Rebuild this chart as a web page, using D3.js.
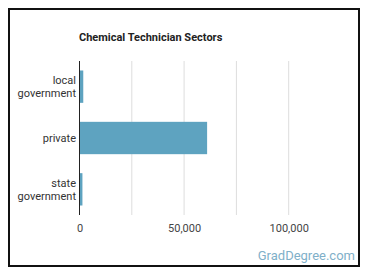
<!DOCTYPE html>
<html><head><meta charset="utf-8">
<script src="https://cdn.jsdelivr.net/npm/d3@7"></script>
<style>body{margin:0;background:#fff;font-family:Roboto,"Noto Sans",sans-serif;}</style>
</head><body>
<script>
const categories = [["local","government"],["private"],["state","government"]];
const values = [1800, 61000, 1400];
const tickValues = [0, 25000, 50000, 75000, 100000];
const tickLabels = ["0", "", "50,000", "", "100,000"];
const title = "Chemical Technician Sectors";

(function () {
const W = 370, H = 278;
const svg = d3.select("body").append("svg").attr("width", W).attr("height", H);
svg.append("rect").attr("x", 9).attr("y", 9).attr("width", 350).attr("height", 257)
  .attr("fill", "#fff").attr("stroke", "#111").attr("stroke-width", 2);

const mLeft = 79.5, mTop = 61, mBottom = 215;
const x = d3.scaleLinear().domain([0, 25000]).range([mLeft, mLeft + 52.3]);
const y = d3.scaleBand().domain(d3.range(categories.length)).range([mTop, mBottom]).paddingInner(0.37).paddingOuter(0.185);

svg.append("text").attr("x", 79).attr("y", 41).attr("font-size", 11).attr("font-weight", "bold")
  .attr("fill", "#222").text(title);

const grid = svg.append("g");
grid.selectAll("line").data(tickValues.slice(1)).join("line")
  .attr("x1", d => x(d)).attr("x2", d => x(d)).attr("y1", mTop).attr("y2", mBottom)
  .attr("stroke", "#ddd").attr("stroke-width", 1);

svg.append("g").selectAll("rect").data(values).join("rect")
  .attr("x", x(0)).attr("y", (d, i) => y(i)).attr("width", d => x(d) - x(0))
  .attr("height", y.bandwidth()).attr("fill", "#5ea3c0");

svg.append("line").attr("x1", x(0)).attr("x2", x(0)).attr("y1", mTop).attr("y2", mBottom)
  .attr("stroke", "#222").attr("stroke-width", 1);

const xa = svg.append("g").attr("transform", `translate(0,${mBottom})`)
  .call(d3.axisBottom(x).tickValues(tickValues).tickFormat((d, i) => tickLabels[i]).tickSize(0).tickPadding(9));
xa.select(".domain").remove();
xa.selectAll("text").attr("font-size", 11).attr("fill", "#444").attr("font-family", "Roboto");

const ylab = svg.append("g");
categories.forEach((lines, i) => {
  const cy = y(i) + y.bandwidth() / 2;
  const t = ylab.append("text").attr("text-anchor", "end").attr("font-size", 11).attr("fill", "#333");
  const n = lines.length;
  lines.forEach((l, j) => {
    t.append("tspan").attr("x", 76).attr("y", cy + (j - (n - 1) / 2) * 13 + 4).text(l);
  });
});

svg.append("text").attr("x", 355).attr("y", 260).attr("text-anchor", "end").attr("font-size", 13)
  .attr("fill", "#7fb0c9").text("GradDegree.com");
})();
</script>
</body></html>
